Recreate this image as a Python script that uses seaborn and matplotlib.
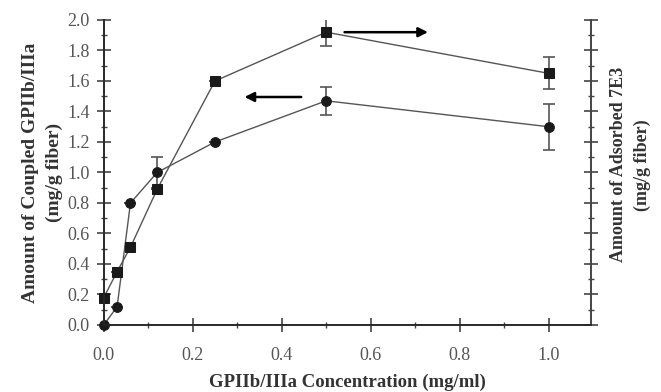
import matplotlib
matplotlib.use("Agg")
import matplotlib.pyplot as plt
import seaborn as sns
import numpy as np
import pandas as pd
from matplotlib.ticker import MultipleLocator, FormatStrFormatter

conc = [0.0, 0.03, 0.06, 0.12, 0.25, 0.5, 1.0]
coupled = [0.0, 0.12, 0.80, 1.00, 1.20, 1.47, 1.30]
coupled_err = [0.0, 0.0, 0.0, 0.10, 0.0, 0.09, 0.15]
adsorbed = [0.18, 0.35, 0.51, 0.89, 1.60, 1.92, 1.65]
adsorbed_err = [0.0, 0.0, 0.0, 0.0, 0.0, 0.09, 0.105]

sns.set_theme(style="ticks")
plt.rcParams['font.family'] = ['Liberation Serif', 'DejaVu Serif']

fig = plt.figure(figsize=(6.61, 3.92), dpi=100)
ax = fig.add_axes([0.157, 0.171, 0.737, 0.778])

df = pd.DataFrame({
    "conc": conc * 2,
    "value": coupled + adsorbed,
    "series": ["Coupled GPIIb/IIIa"] * len(conc) + ["Adsorbed 7E3"] * len(conc),
})

line_col = "#555555"
for name, marker, ms, err in [("Coupled GPIIb/IIIa", "o", 7, coupled_err),
                              ("Adsorbed 7E3", "s", 7.5, adsorbed_err)]:
    sub = df[df.series == name]
    ax.errorbar(sub.conc, sub.value, yerr=err, fmt="none", ecolor=line_col,
                elinewidth=1.2, capsize=4, capthick=1.2, zorder=2)
    sns.lineplot(data=sub, x="conc", y="value", ax=ax, color=line_col,
                 linewidth=1.0, marker=marker, markersize=ms,
                 markerfacecolor="#1a1a1a", markeredgecolor="#1a1a1a",
                 legend=False, zorder=3, clip_on=False)

ax.set_xlim(0, 1.095)
ax.set_ylim(0, 2.0)
ax.xaxis.set_major_locator(MultipleLocator(0.2))
ax.xaxis.set_minor_locator(MultipleLocator(0.1))
ax.yaxis.set_major_locator(MultipleLocator(0.2))
ax.yaxis.set_minor_locator(MultipleLocator(0.1))
ax.xaxis.set_major_formatter(FormatStrFormatter("%.1f"))
ax.yaxis.set_major_formatter(FormatStrFormatter("%.1f"))

ax.spines["top"].set_visible(False)
for s in ["left", "bottom", "right"]:
    ax.spines[s].set_color("#444444")
    ax.spines[s].set_linewidth(1.2)

ax.tick_params(axis="both", which="major", direction="inout", length=10,
               width=1.2, color="#444444", labelsize=13, labelcolor="#555555")
ax.tick_params(axis="both", which="minor", direction="inout", length=5,
               width=1.0, color="#444444")
ax.tick_params(axis="x", which="major", pad=11)
ax.tick_params(axis="y", which="major", pad=5)

ax2 = ax.twinx()
ax2.set_ylim(0, 2.0)
ax2.yaxis.set_major_locator(MultipleLocator(0.2))
ax2.yaxis.set_minor_locator(MultipleLocator(0.1))
ax2.tick_params(axis="y", which="major", direction="inout", length=10,
                width=1.2, color="#444444", labelright=False)
ax2.tick_params(axis="y", which="minor", direction="inout", length=5,
                width=1.0, color="#444444")
ax2.spines["top"].set_visible(False)
ax2.spines["right"].set_color("#444444")
ax2.spines["right"].set_linewidth(1.2)

ax.set_xlabel("GPIIb/IIIa Concentration (mg/ml)", fontsize=13.5,
              fontweight="bold", color="#333333", labelpad=7)
ax.set_ylabel("Amount of Coupled GPIIb/IIIa\n(mg/g fiber)", fontsize=14,
              fontweight="bold", color="#333333", labelpad=3, linespacing=1.55)
ax2.set_ylabel("Amount of Adsorbed 7E3\n(mg/g fiber)", fontsize=13,
               fontweight="bold", color="#333333", rotation=90, labelpad=8,
               linespacing=1.5)
ax2.yaxis.label.set_y(0.525)

ax.annotate("", xy=(0.31, 1.495), xytext=(0.45, 1.495),
            arrowprops=dict(arrowstyle="-|>", color="black", lw=1.8,
                            mutation_scale=14))
ax.annotate("", xy=(0.735, 1.92), xytext=(0.535, 1.92),
            arrowprops=dict(arrowstyle="-|>", color="black", lw=1.8,
                            mutation_scale=14))

fig.savefig("out.png", dpi=100)
